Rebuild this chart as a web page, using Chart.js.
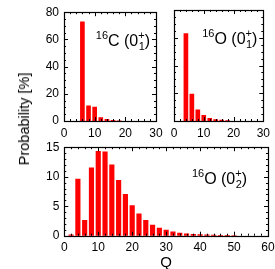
<!DOCTYPE html>
<html><head><meta charset="utf-8">
<script src="https://cdn.jsdelivr.net/npm/chart.js@4/dist/chart.umd.min.js"></script>
<style>
html,body{margin:0;padding:0;background:#fff;overflow:hidden;width:275px;height:269px;}
canvas{position:absolute;}
#ylab{position:absolute;left:24px;top:119px;transform:translate(-50%,-50%) rotate(-90deg);font:14.5px "Liberation Sans",Arial,sans-serif;color:#000;white-space:nowrap;}
</style></head><body>
<canvas id="c1" width="170" height="140" style="left:0;top:0"></canvas>
<canvas id="c2" width="115" height="140" style="left:160px;top:0"></canvas>
<canvas id="c3" width="280" height="137" style="left:0;top:135px"></canvas>
<div id="ylab">Probability [%]</div>
<script>
// ---- data ----
const qC16 = [6, 8, 10, 12, 14, 16, 18];
const probC16 = [73.0, 11.2, 10.2, 2.6, 1.2, 0.5, 0.2];
const qO16g = [4, 6, 8, 10, 12, 14, 16, 18];
const probO16g = [63.0, 19.4, 8.0, 4.1, 2.0, 1.1, 0.6, 0.3];
const qO16e = [2, 4, 6, 8, 10, 12, 14, 16, 18, 20, 22, 24, 26, 28, 30, 32, 34, 36, 38, 40, 42, 44, 46, 48, 50];
const probO16e = [0.15, 9.6, 2.6, 11.5, 14.3, 14.2, 12.0, 9.4, 7.0, 5.1, 3.7, 2.6, 1.8, 1.3, 0.95, 0.65, 0.45, 0.32, 0.24, 0.18, 0.13, 0.1, 0.07, 0.05, 0.03];
const xTicksTop = [0, 10, 20, 30];
const yTicksTop = [0, 20, 40, 60, 80];
const xTicksBottom = [0, 10, 20, 30, 40, 50, 60];
const yTicksBottom = [0, 5, 10, 15];

const FONT = '"Liberation Sans", Arial, sans-serif';

const frame = {
  id: 'frame',
  afterDraw(chart, args, o) {
    const ctx = chart.ctx, a = chart.chartArea;
    const xs = chart.scales.x, ys = chart.scales.y;
    ctx.save();
    ctx.strokeStyle = '#000';
    ctx.lineWidth = 1;
    ctx.beginPath();
    for (let v = xs.min; v <= xs.max + 1e-9; v += o.xMinor) {
      const p = Math.round(xs.getPixelForValue(v)) + 0.5;
      const len = (Math.abs(v % o.xMajor) < 1e-9) ? 4 : 2;
      ctx.moveTo(p, a.bottom); ctx.lineTo(p, a.bottom - len);
      ctx.moveTo(p, a.top); ctx.lineTo(p, a.top + len);
    }
    for (let v = ys.min; v <= ys.max + 1e-9; v += o.yMinor) {
      const p = Math.round(ys.getPixelForValue(v)) + 0.5;
      const len = (Math.abs(v % o.yMajor) < 1e-9) ? 4 : 2;
      ctx.moveTo(a.left, p); ctx.lineTo(a.left + len, p);
      ctx.moveTo(a.right, p); ctx.lineTo(a.right - len, p);
    }
    ctx.stroke();
    ctx.lineWidth = 1.2;
    ctx.strokeRect(Math.round(a.left) + 0.5, Math.round(a.top) + 0.5, Math.round(a.right - a.left), Math.round(a.bottom - a.top));
    // label
    const L = o.label;
    const big = '16px ' + FONT, small = '11px ' + FONT;
    ctx.fillStyle = '#000';
    ctx.textBaseline = 'alphabetic';
    ctx.textAlign = 'left';
    ctx.font = small; const wMass = ctx.measureText(L.mass).width;
    const wPlus = Math.max(ctx.measureText('+').width, ctx.measureText(L.sub).width);
    ctx.font = big;
    const wSym = ctx.measureText(L.sym).width, wOpen = ctx.measureText(' (0').width, wClose = ctx.measureText(')').width;
    const total = wMass + wSym + wOpen + wPlus + wClose;
    let x = a.right - L.dx - total;
    const y = a.top + L.dy;
    ctx.font = small; ctx.fillText(L.mass, x, y - 7); x += wMass;
    ctx.font = big; ctx.fillText(L.sym + ' (0', x, y); x += wSym + wOpen;
    ctx.font = small; ctx.fillText('+', x, y - 7); ctx.fillText(L.sub, x + 0.5, y + 4); x += wPlus;
    ctx.font = big; ctx.fillText(')', x, y);
    ctx.restore();
  }
};

function makeChart(id, q, p, cfg) {
  const data = q.map((v, i) => ({x: v, y: p[i]}));
  return new Chart(document.getElementById(id), {
    type: 'bar',
    data: { datasets: [{ data, backgroundColor: '#ff0000', borderWidth: 0, barThickness: cfg.barW }] },
    options: {
      responsive: false, animation: false,
      layout: { padding: cfg.pad },
      plugins: { legend: {display: false}, tooltip: {enabled: false},
        frame: { xMinor: 2, xMajor: 10, yMinor: cfg.yMinor, yMajor: cfg.yMajor, label: cfg.label } },
      scales: {
        x: {
          type: 'linear', min: cfg.xMin, max: cfg.xMax, offset: false,
          grid: {display: false, drawTicks: false}, border: {display: false},
          afterBuildTicks: s => { s.ticks = cfg.xTicks.map(v => ({value: v})); },
          ticks: { font: {family: FONT, size: 12}, color: '#000', padding: 5, maxRotation: 0, autoSkip: false },
          title: cfg.xTitle ? { display: true, text: cfg.xTitle, font: {family: FONT, size: 15}, color: '#000', padding: 0 } : {display: false},
          afterFit: s => { s.height = cfg.xH; }
        },
        y: {
          min: cfg.yMin, max: cfg.yMax,
          grid: {display: false, drawTicks: false}, border: {display: false},
          afterBuildTicks: s => { s.ticks = cfg.yTicks.map(v => ({value: v})); },
          ticks: { display: cfg.yLabels, font: {family: FONT, size: 12}, color: '#000', padding: 5 },
          afterFit: s => { s.width = cfg.yW; }
        }
      }
    },
    plugins: [frame]
  });
}

makeChart('c1', qC16, probC16, {
  barW: 4, pad: {left: 0, top: 10, right: 14, bottom: 0}, xH: 19, yW: 64,
  xMin: 0, xMax: 30, yMin: 0, yMax: 80, xTicks: xTicksTop, yTicks: yTicksTop, yLabels: true,
  yMinor: 5, yMajor: 20, label: {mass: '16', sym: 'C', sub: '1', dx: 6, dy: 34}
});
makeChart('c2', qO16g, probO16g, {
  barW: 4, pad: {left: 14, top: 10, right: 9, bottom: 0}, xH: 19, yW: 0,
  xMin: 0, xMax: 30, yMin: 0, yMax: 80, xTicks: xTicksTop, yTicks: yTicksTop, yLabels: false,
  yMinor: 5, yMajor: 20, label: {mass: '16', sym: 'O', sub: '1', dx: 6, dy: 34}
});
makeChart('c3', qO16e, probO16e, {
  barW: 4.5, pad: {left: 0, top: 10, right: 12, bottom: 0}, xH: 36.3, yW: 64.3,
  xMin: 0, xMax: 60, yMin: 0, yMax: 15, xTicks: xTicksBottom, yTicks: yTicksBottom, yLabels: true,
  yMinor: 1, yMajor: 5, label: {mass: '16', sym: 'O', sub: '2', dx: 21, dy: 37}, xTitle: 'Q'
});
</script>
</body></html>
